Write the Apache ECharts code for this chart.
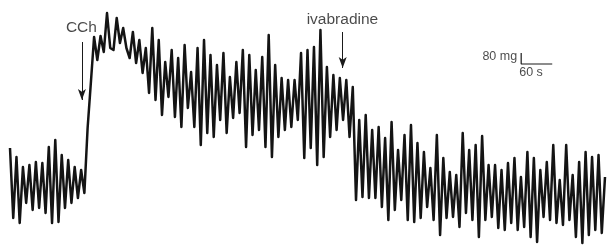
<!DOCTYPE html>
<html>
<head>
<meta charset="utf-8">
<script src="https://cdn.jsdelivr.net/npm/echarts@6/dist/echarts.min.js"></script>
<style>
html,body{margin:0;padding:0;background:#fff;}
#chart{width:608px;height:248px;}
</style>
</head>
<body>
<div id="chart"></div>
<script>
// Tension trace (units: 11 units = 80 mg), one sample every DT seconds
var DT = 6.25;
var baseline = [100,30,91,25,81,45,83,38,86,40,85,35,101,25,108,26,93,40,88,45,81,50,78,55];
var cchRise = [120,165,211,188,212,196,235,200,198,230,205,220,200,190,216,185,208,175,200];
var plateau = [155,220,148,208,133,186,151,198,131,190,
               121,203,140,176,121,200,103,208,115,193,
               111,183,128,195,115,171,130,186,135,198,
               101,193,113,178,118,191,101,213,91,183,
               111,170,118,168,121,168,128,195,90,198,
               100,201,83,218,91,181,111,173,118,170,
               128,168,111,161,48,128,51,133,50,118,
               50,121,41];
var ivabA = [110,28,126,38,98,48,113,28,123,26,105,30,96,41,80,28,113,13,90,30,76,31,73,21,115];
var ivabB = [35,98,28,103,11,112,28,83,31,83,20,78,18,85,25,90,18,71,21,96,11,90,6];
var ivabC = [78,31,86,28,103,25,68,23,103,28,73,11,86,5,96,13,91,18,93,15,71];

// annotations
var arrowCCh = {t:139, from:206, to:148, label:'CCh', labelT:138, labelY:220.5};
var arrowIva = {t:643, from:216, to:180, label:'ivabradine', labelT:642.5, labelY:228};
var scaleBar = {t:988, y:184, mgLen:11, sLen:60, mgLabel:'80 mg', sLabel:'60 s'};

var values = [].concat(baseline, cchRise, plateau, ivabA, ivabB, ivabC);
var trace = values.map(function(v, i){ return [i*DT, v]; });
var tMax = (values.length-1)*DT;

var chart = echarts.init(document.getElementById('chart'), null, {renderer:'canvas'});
var txt = {fontFamily:'Liberation Sans, Arial, sans-serif', color:'#1a1a1a'};
chart.setOption({
  animation:false,
  grid:{left:10,right:3,top:0,bottom:0},
  xAxis:{type:'value',min:0,max:tMax,show:false},
  yAxis:{type:'value',min:0,max:248,show:false},
  series:[
    {
      type:'line', data:trace, showSymbol:false, symbol:'none', clip:false,
      lineStyle:{color:'#141414',width:2.5,join:'round'},
      markLine:{
        silent:true, symbol:['none','arrow'], symbolSize:[6,11],
        lineStyle:{color:'#1a1a1a',width:1,type:'solid'},
        label:{show:false},
        data:[
          [{coord:[arrowCCh.t,arrowCCh.from]},{coord:[arrowCCh.t,arrowCCh.to]}],
          [{coord:[arrowIva.t,arrowIva.from]},{coord:[arrowIva.t,arrowIva.to]}]
        ]
      }
    },
    {
      type:'line', showSymbol:false, symbol:'none',
      lineStyle:{color:'#1a1a1a',width:1.2},
      data:[[scaleBar.t, scaleBar.y+scaleBar.mgLen],[scaleBar.t, scaleBar.y],[scaleBar.t+scaleBar.sLen, scaleBar.y]]
    },
    {
      type:'scatter', symbolSize:0, silent:true,
      data:[
        {value:[arrowCCh.labelT, arrowCCh.labelY], label:{show:true,position:'inside',formatter:arrowCCh.label,fontSize:15.5,fontFamily:txt.fontFamily,color:txt.color}},
        {value:[arrowIva.labelT, arrowIva.labelY], label:{show:true,position:'inside',formatter:arrowIva.label,fontSize:15.5,fontFamily:txt.fontFamily,color:txt.color}},
        {value:[scaleBar.t-2, scaleBar.y+7], label:{show:true,position:'left',distance:3,formatter:scaleBar.mgLabel,fontSize:12.5,fontFamily:txt.fontFamily,color:txt.color}},
        {value:[scaleBar.t+19, scaleBar.y-9], label:{show:true,position:'inside',formatter:scaleBar.sLabel,fontSize:12.5,fontFamily:txt.fontFamily,color:txt.color}}
      ]
    }
  ]
});
</script>
</body>
</html>
